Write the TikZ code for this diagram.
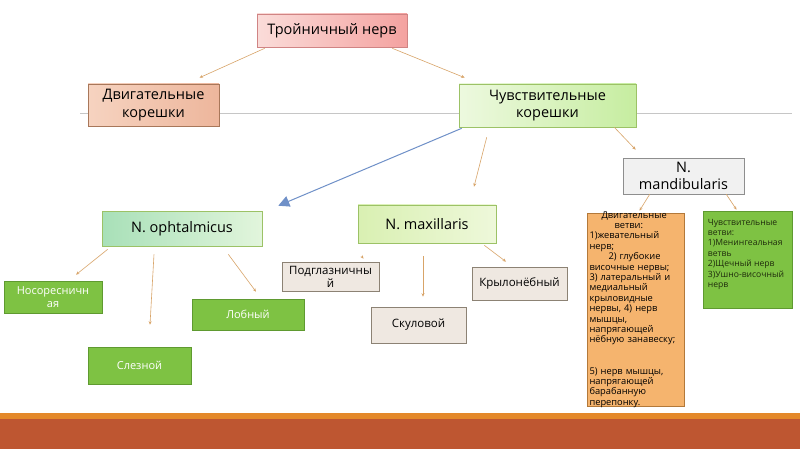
\documentclass[tikz,border=0pt]{standalone}
\usepackage{fontspec}
\setmainfont{Open Sans}
\usetikzlibrary{arrows.meta, positioning}

\definecolor{pinkL}{HTML}{FADCD9}
\definecolor{pinkR}{HTML}{F4A2A0}
\definecolor{pinkLine}{HTML}{D08484}
\definecolor{peachL}{HTML}{F6D3C0}
\definecolor{peachR}{HTML}{EDB69C}
\definecolor{peachLine}{HTML}{A8775A}
\definecolor{rootL}{HTML}{EDF9DF}
\definecolor{rootR}{HTML}{C6EDA0}
\definecolor{rootLine}{HTML}{9CC266}
\definecolor{ophL}{HTML}{A8E0B8}
\definecolor{ophR}{HTML}{E2F5DC}
\definecolor{maxL}{HTML}{D9F0B2}
\definecolor{maxR}{HTML}{EEF8DA}
\definecolor{greyFill}{HTML}{F1F1F1}
\definecolor{greyLine}{HTML}{8E8E8E}
\definecolor{beige}{HTML}{EFE8E1}
\definecolor{beigeLine}{HTML}{8C8274}
\definecolor{leaf}{HTML}{7EC243}
\definecolor{leafLine}{HTML}{5F9A30}
\definecolor{orangeBox}{HTML}{F5B46E}
\definecolor{orangeLine}{HTML}{B3793A}
\definecolor{connCol}{HTML}{D8A468}
\definecolor{blueArr}{HTML}{6F90C8}
\definecolor{barTop}{HTML}{E4892A}
\definecolor{barMain}{HTML}{BE5631}
\definecolor{darkTxt}{HTML}{1F2C0C}

\begin{document}
\begin{tikzpicture}[x=1pt, y=-1pt,
  box/.style={draw, rectangle, inner sep=1pt, align=center, line width=0.6pt},
  big/.style={font=\fontsize{14.5}{17.5}\selectfont},
  small/.style={font=\fontsize{11.5}{13}\selectfont},
  greybox/.style={box, small, fill=beige, draw=beigeLine},
  leafbox/.style={box, font=\fontsize{11}{13}\selectfont, fill=leaf, draw=leafLine, text=white},
  conn/.style={draw=connCol, line width=0.6pt, -{Stealth[length=3.5pt,width=3pt]}},
  bluearrow/.style={draw=blueArr, line width=1pt, -{Triangle[length=11pt,width=11pt]}}
]
\useasboundingbox (0,0) rectangle (800,449);
\fill[white] (0,0) rectangle (800,449);

% separator line and footer bar
\draw[gray!45, line width=0.8pt] (80,113) -- (792,113);
\fill[barMain] (0,418) rectangle (800,449);
\fill[barTop] (0,413) rectangle (800,419);

% top levels
\node[box, big, minimum width=150pt, minimum height=33pt, left color=pinkL, right color=pinkR, draw=pinkLine] (trig) at (332,30.5) {Тройничный нерв};
\node[box, big, minimum width=131pt, minimum height=42pt, left color=peachL, right color=peachR, draw=peachLine] (motor) at (153.5,105) {Двигательные\\корешки};
\node[box, big, minimum width=177pt, minimum height=43pt, left color=rootL, right color=rootR, draw=rootLine] (sensory) at (547.5,105.5) {Чувствительные\\корешки};

% branches
\node[box, big, minimum width=121pt, minimum height=36pt, fill=greyFill, draw=greyLine] (mandib) at (683.5,176) {N.\\mandibularis};
\node[box, big, minimum width=160pt, minimum height=35pt, left color=ophL, right color=ophR, draw=rootLine] (ophth) at (182,228.5) {N. ophtalmicus};
\node[box, big, minimum width=138pt, minimum height=38pt, left color=maxL, right color=maxR, draw=rootLine] (maxil) at (427,224) {N. maxillaris};

% maxillaris leaves
\node[greybox, minimum width=97pt, minimum height=29pt] (infraorb) at (330.5,276.5) {Подглазничны\\й};
\node[greybox, minimum width=95pt, minimum height=36pt] (zygom) at (418.5,325) {Скуловой};
\node[greybox, minimum width=95pt, minimum height=33pt] (pterygo) at (519.5,283.5) {Крылонёбный};

% ophtalmicus leaves
\node[leafbox, minimum width=98pt, minimum height=32pt] (nasocil) at (53,297) {Носоресничн\\ая};
\node[leafbox, minimum width=112pt, minimum height=31pt] (frontal) at (248,314.5) {Лобный};
\node[leafbox, minimum width=103pt, minimum height=37pt] (lacrim) at (139.5,365.5) {Слезной};

% mandibularis branches
\node[box, minimum width=97pt, minimum height=193pt, fill=orangeBox, draw=orangeLine] (motorbr) at (635.5,309.5) {};
\node[align=left, inner sep=0pt, text width=94pt, font=\fontsize{9.3}{10.4}\selectfont] (motortxt) at ([xshift=1pt]motorbr.center) {%
\hspace*{12pt}Двигательные\\
\hspace*{25pt}ветви:\\
1)жевательный\\
нерв;\\
\hspace*{19pt}2) глубокие\\
височные нервы;\\
3) латеральный и\\
медиальный\\
крыловидные\\
нервы, 4) нерв\\
мышцы,\\
напрягающей\\
нёбную занавеску;\\[20.8pt]
5) нерв мышцы,\\
напрягающей\\
барабанную\\
перепонку.};
\node[box, minimum width=89pt, minimum height=97pt, fill=leaf, draw=leafLine] (sensbr) at (747.5,259.5) {};
\node[anchor=north west, align=left, inner sep=0pt, text=darkTxt, font=\fontsize{8.6}{10.4}\selectfont] (senstxt) at ([xshift=5pt,yshift=-8pt]sensbr.north west) {%
Чувствительные\\
ветви:\\
1)Менингеальная\\
ветвь\\
2)Щечный нерв\\
3)Ушно-височный\\
нерв};

% connectors
\draw[conn] ([xshift=8pt,yshift=-1pt]trig.south west) -- ([xshift=46pt,yshift=6pt]motor.north);
\draw[conn] ([xshift=-15pt,yshift=-1pt]trig.south east) -- ([xshift=6pt,yshift=6pt]motor.north -| sensory.north west);
\draw[bluearrow] ([xshift=3pt,yshift=-1pt]sensory.south west) -- ([xshift=16pt,yshift=5pt]ophth.north east);
\draw[conn] ([xshift=28pt,yshift=-10pt]sensory.south west) -- ([xshift=47pt,yshift=18pt]maxil.north);
\draw[conn] ([xshift=-22pt]sensory.south east) -- ([xshift=13pt,yshift=8pt]mandib.north west);
\draw[conn] ([xshift=27pt]mandib.south west) -- ([xshift=4pt,yshift=2pt]motorbr.north);
\draw[conn] ([xshift=-18pt]mandib.south east) -- ([xshift=-11pt,yshift=1pt]sensbr.north);
\draw[conn] ([xshift=6pt,yshift=-3pt]ophth.south west) -- ([xshift=23pt,yshift=6pt]nasocil.north);
\draw[conn] ([xshift=-28pt,yshift=-8pt]ophth.south) -- ([xshift=10.5pt,yshift=22pt]lacrim.north);
\draw[conn] ([xshift=-34pt,yshift=-8pt]ophth.south east) -- ([xshift=8pt,yshift=7pt]frontal.north);
\draw[conn] ([xshift=4pt,yshift=-13pt]maxil.south west) -- ([xshift=33pt,yshift=3pt]infraorb.north);
\draw[conn] ([xshift=-4pt,yshift=-13pt]maxil.south) -- ([xshift=4.5pt,yshift=10pt]zygom.north);
\draw[conn] ([xshift=-12pt,yshift=-2pt]maxil.south east) -- ([xshift=-13.5pt,yshift=5pt]pterygo.north);
\end{tikzpicture}
\end{document}
